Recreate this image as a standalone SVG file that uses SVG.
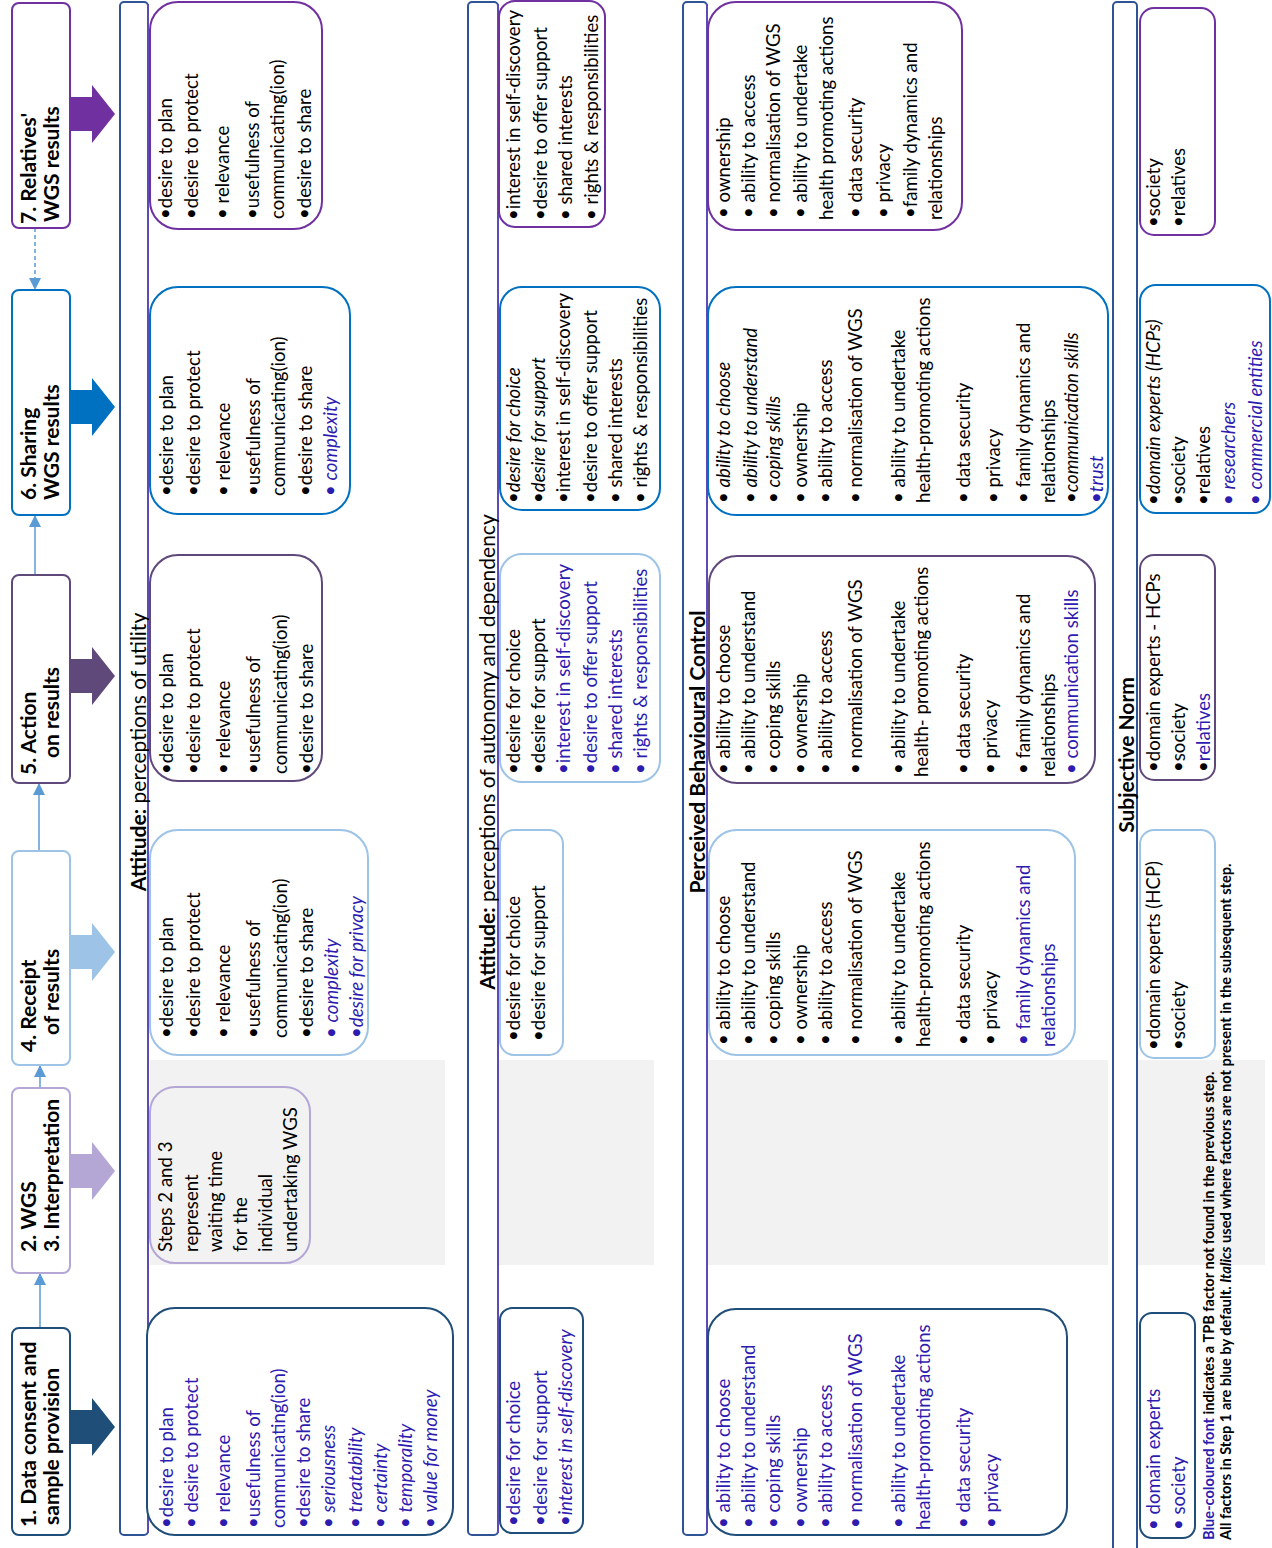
<svg xmlns="http://www.w3.org/2000/svg" width="1272" height="1548" viewBox="0 0 1272 1548">
<defs>
<style>
text{font-family:Lato,"Liberation Sans",sans-serif;font-size:18.6px;fill:#000}
.bl{fill:#2e1cb0}
.it{font-style:italic}
.st{font-size:21px;font-weight:bold}
.tt{font-size:21px}
.fn{font-size:14.6px;font-weight:bold}
.box{fill:#fff;stroke-width:2}
.bar{fill:#fff;stroke:#2f5496;stroke-width:2}
.grey{fill:#f2f2f2}
.conn{stroke:#5b9bd5;stroke-width:1.5;fill:none}
</style>
<marker id="ah" viewBox="0 0 12 12" refX="12" refY="6" markerWidth="12" markerHeight="12" markerUnits="userSpaceOnUse" orient="auto"><path d="M0,0 L12,6 L0,12 z" fill="#5b9bd5"/></marker>
</defs>
<rect width="1272" height="1548" fill="#fff"/>
<g transform="translate(0 1548) rotate(-90)">
<!-- grey waiting regions -->
<rect class="grey" x="283" y="150" width="205" height="295"/>
<rect class="grey" x="283" y="499" width="205" height="155"/>
<rect class="grey" x="283" y="708" width="205" height="400"/>
<rect class="grey" x="283" y="1138" width="205" height="127"/>

<!-- row header bars -->
<g id="row-utility">
<rect class="bar" x="13" y="120" width="1533" height="28" rx="4"/>
<line x1="15" y1="148" x2="1544" y2="148" stroke="#5b4bb7" stroke-width="2"/>
<text class="tt" x="796" y="146" text-anchor="middle"><tspan font-weight="bold">Attitude:</tspan> perceptions of utility</text>
</g>
<g id="row-autonomy">
<rect class="bar" x="13" y="468" width="1533" height="30" rx="4"/>
<line x1="15" y1="498" x2="1544" y2="498" stroke="#5b4bb7" stroke-width="2"/>
<text class="tt" x="796" y="495" text-anchor="middle"><tspan font-weight="bold">Attitude:</tspan> perceptions of autonomy and dependency</text>
</g>
<g id="row-pbc">
<rect class="bar" x="13" y="683" width="1533" height="24" rx="4"/>
<line x1="15" y1="707" x2="1544" y2="707" stroke="#5b4bb7" stroke-width="2"/>
<text class="tt" x="796" y="705" text-anchor="middle" font-weight="bold">Perceived Behavioural Control</text>
</g>
<g id="row-norm">
<rect class="bar" x="-4" y="1113" width="1550" height="24" rx="4"/>
<text class="tt" x="793" y="1134" text-anchor="middle" font-weight="bold">Subjective Norm</text>
</g>

<!-- connectors -->
<g id="connectors">
<line class="conn" x1="220" y1="40" x2="275" y2="40" marker-end="url(#ah)"/>
<line class="conn" x1="460" y1="40" x2="483" y2="40" marker-end="url(#ah)"/>
<line class="conn" x1="697" y1="39" x2="765" y2="39" marker-end="url(#ah)"/>
<line class="conn" x1="973" y1="35" x2="1033" y2="35" marker-end="url(#ah)"/>
<line class="conn" x1="1320" y1="35" x2="1258" y2="35" stroke-dasharray="4 3" marker-end="url(#ah)"/>
<polygon points="104,70 138,70 138,92 150,92 121,115 92,92 104,92" fill="#1f4e79"/>
<polygon points="360,70 394,70 394,92 406,92 377,115 348,92 360,92" fill="#b4a7d6"/>
<polygon points="579,70 613,70 613,92 625,92 596,115 567,92 579,92" fill="#9dc3e6"/>
<polygon points="855,70 889,70 889,92 901,92 872,115 843,92 855,92" fill="#5f497a"/>
<polygon points="1124,70 1158,70 1158,92 1170,92 1141,115 1112,92 1124,92" fill="#0070c0"/>
<polygon points="1417,70 1451,70 1451,92 1463,92 1434,115 1405,92 1417,92" fill="#7030a0"/>
</g>

<!-- steps -->
<g id="step1"><rect class="box" x="13" y="12" width="207" height="58" rx="7" stroke="#1f4e79"/>
<text class="st" x="21" y="36">1. Data consent and</text><text class="st" x="23" y="59">sample provision</text></g>
<g id="step2-3"><rect class="box" x="275" y="12" width="185" height="58" rx="7" stroke="#b4a7d6"/>
<text class="st" x="296" y="36">2. WGS</text><text class="st" x="296" y="59">3. Interpretation</text></g>
<g id="step4"><rect class="box" x="483" y="12" width="214" height="58" rx="7" stroke="#9dc3e6"/>
<text class="st" x="496" y="36">4. Receipt</text><text class="st" x="513" y="59">of results</text></g>
<g id="step5"><rect class="box" x="765" y="12" width="208" height="58" rx="7" stroke="#5f497a"/>
<text class="st" x="773" y="36">5. Action</text><text class="st" x="790" y="59">on results</text></g>
<g id="step6"><rect class="box" x="1033" y="12" width="225" height="58" rx="7" stroke="#0070c0"/>
<text class="st" x="1048" y="36">6. Sharing</text><text class="st" x="1048" y="59">WGS results</text></g>
<g id="step7"><rect class="box" x="1320" y="12" width="225" height="58" rx="7" stroke="#7030a0"/>
<text class="st" x="1324" y="36">7. Relatives'</text><text class="st" x="1326" y="59">WGS results</text></g>

<!-- Row 1: utility -->
<g id="u1"><rect class="box" x="13" y="147" width="227" height="306" rx="28" stroke="#1f4e79"/>
<text class="bl" x="20" y="173">•desire to plan</text>
<text class="bl" x="20" y="198">• desire to protect</text>
<text class="bl" x="20" y="230">• relevance</text>
<text class="bl" x="20" y="260">•usefulness of</text>
<text class="bl" x="20" y="285">communicating(ion)</text>
<text class="bl" x="20" y="310">•desire to share</text>
<text class="bl" x="20" y="335">• <tspan class="it bl">seriousness</tspan></text>
<text class="bl" x="20" y="362">• <tspan class="it bl">treatability</tspan></text>
<text class="bl" x="20" y="387">• <tspan class="it bl">certainty</tspan></text>
<text class="bl" x="20" y="412">• <tspan class="it bl">temporality</tspan></text>
<text class="bl" x="20" y="437">• <tspan class="it bl">value for money</tspan></text></g>
<g id="u23"><rect x="285" y="150" width="176" height="160" rx="25" fill="#f2f2f2" stroke="#b4a7d6" stroke-width="2"/>
<text x="296" y="172">Steps 2 and 3</text>
<text x="296" y="198">represent</text>
<text x="296" y="222">waiting time</text>
<text x="296" y="247">for the</text>
<text x="296" y="272">individual</text>
<text x="296" y="297">undertaking WGS</text></g>
<g id="u4"><rect class="box" x="493" y="150" width="225" height="218" rx="28" stroke="#9dc3e6"/>
<text x="510" y="173">•desire to plan</text>
<text x="510" y="200">•desire to protect</text>
<text x="510" y="230">• relevance</text>
<text x="510" y="260">•usefulness of</text>
<text x="510" y="287">communicating(ion)</text>
<text x="510" y="313">•desire to share</text>
<text class="bl" x="510" y="338">• <tspan class="it bl">complexity</tspan></text>
<text class="bl" x="510" y="363">•<tspan class="it bl">desire for privacy</tspan></text></g>
<g id="u5"><rect class="box" x="767" y="150" width="226" height="172" rx="28" stroke="#5f497a"/>
<text x="774" y="173">•desire to plan</text>
<text x="774" y="200">•desire to protect</text>
<text x="774" y="230">• relevance</text>
<text x="774" y="260">•usefulness of</text>
<text x="774" y="287">communicating(ion)</text>
<text x="774" y="313">•desire to share</text></g>
<g id="u6"><rect class="box" x="1034" y="150" width="227" height="200" rx="28" stroke="#0070c0"/>
<text x="1052" y="173">•desire to plan</text>
<text x="1052" y="200">•desire to protect</text>
<text x="1052" y="230">• relevance</text>
<text x="1052" y="260">•usefulness of</text>
<text x="1052" y="285">communicating(ion)</text>
<text x="1052" y="312">•desire to share</text>
<text class="bl" x="1052" y="337">• <tspan class="it bl">complexity</tspan></text></g>
<g id="u7"><rect class="box" x="1319" y="150" width="227" height="172" rx="28" stroke="#7030a0"/>
<text x="1329" y="172">•desire to plan</text>
<text x="1329" y="198">•desire to protect</text>
<text x="1329" y="229">• relevance</text>
<text x="1329" y="259">•usefulness of</text>
<text x="1329" y="284">communicating(ion)</text>
<text x="1329" y="311">•desire to share</text></g>

<!-- Row 2: autonomy -->
<g id="a1"><rect class="box" x="15" y="500" width="225" height="83" rx="12" stroke="#1f4e79"/>
<text class="bl" x="22" y="520">•desire for choice</text>
<text class="bl" x="22" y="547">•desire for support</text>
<text class="bl" x="22" y="572">•<tspan class="it bl">interest in self-discovery</tspan></text></g>
<g id="a4"><rect class="box" x="493" y="500" width="225" height="63" rx="14" stroke="#9dc3e6"/>
<text x="507" y="520">•desire for choice</text>
<text x="507" y="545">•desire for support</text></g>
<g id="a5"><rect class="box" x="766" y="500" width="228" height="160" rx="22" stroke="#9dc3e6"/>
<text x="774" y="520">•desire for choice</text>
<text x="774" y="545">•desire for support</text>
<text class="bl" x="774" y="570">•interest in self-discovery</text>
<text class="bl" x="774" y="597">•desire to offer support</text>
<text class="bl" x="774" y="622">• shared interests</text>
<text class="bl" x="774" y="647">• rights &amp; responsibilities</text></g>
<g id="a6"><rect class="box" x="1038" y="500" width="223" height="160" rx="22" stroke="#0070c0"/>
<text x="1045" y="520">•<tspan class="it">desire for choice</tspan></text>
<text x="1045" y="545">•<tspan class="it">desire for support</tspan></text>
<text x="1045" y="570">•interest in self-discovery</text>
<text x="1045" y="597">•desire to offer support</text>
<text x="1045" y="622">• shared interests</text>
<text x="1045" y="647">• rights &amp; responsibilities</text></g>
<g id="a7"><rect class="box" x="1321" y="499" width="226" height="106" rx="16" stroke="#7030a0"/>
<text x="1328" y="520">•interest in self-discovery</text>
<text x="1328" y="547">•desire to offer support</text>
<text x="1328" y="572">• shared interests</text>
<text x="1328" y="598">• rights &amp; responsibilities</text></g>

<!-- Row 3: PBC -->
<g id="p1"><rect class="box" x="13" y="708" width="226" height="359" rx="28" stroke="#1f4e79"/>
<text class="bl" x="20" y="730">• ability to choose</text>
<text class="bl" x="20" y="755">• ability to understand</text>
<text class="bl" x="20" y="780">• coping skills</text>
<text class="bl" x="20" y="807">• ownership</text>
<text class="bl" x="20" y="832">• ability to access</text>
<text class="bl" x="20" y="862">• normalisation of WGS</text>
<text class="bl" x="20" y="905">• ability to undertake</text>
<text class="bl" x="18" y="930">health-promoting actions</text>
<text class="bl" x="20" y="970">• data security</text>
<text class="bl" x="20" y="998">• privacy</text></g>
<g id="p4"><rect class="box" x="493" y="709" width="225" height="366" rx="28" stroke="#9dc3e6"/>
<text x="503" y="730">• ability to choose</text>
<text x="503" y="755">• ability to understand</text>
<text x="503" y="780">• coping skills</text>
<text x="503" y="807">• ownership</text>
<text x="503" y="832">• ability to access</text>
<text x="503" y="862">• normalisation of WGS</text>
<text x="503" y="905">• ability to undertake</text>
<text x="501" y="930">health-promoting actions</text>
<text x="503" y="970">• data security</text>
<text x="503" y="997">• privacy</text>
<text class="bl" x="503" y="1030">• family dynamics and</text>
<text class="bl" x="501" y="1055">relationships</text></g>
<g id="p5"><rect class="box" x="765" y="709" width="227" height="386" rx="28" stroke="#5f497a"/>
<text x="774" y="730">• ability to choose</text>
<text x="774" y="755">• ability to understand</text>
<text x="774" y="780">• coping skills</text>
<text x="774" y="807">• ownership</text>
<text x="774" y="832">• ability to access</text>
<text x="774" y="862">• normalisation of WGS</text>
<text x="774" y="905">• ability to undertake</text>
<text x="771" y="928">health- promoting actions</text>
<text x="774" y="970">• data security</text>
<text x="774" y="997">• privacy</text>
<text x="774" y="1030">• family dynamics and</text>
<text x="771" y="1055">relationships</text>
<text class="bl" x="774" y="1078">• communication skills</text></g>
<g id="p6"><rect class="box" x="1033" y="708" width="228" height="400" rx="28" stroke="#0070c0"/>
<text x="1045" y="730">• <tspan class="it">ability to choose</tspan></text>
<text x="1045" y="757">• <tspan class="it">ability to understand</tspan></text>
<text x="1045" y="780">• <tspan class="it">coping skills</tspan></text>
<text x="1045" y="807">• ownership</text>
<text x="1045" y="832">• ability to access</text>
<text x="1045" y="862">• normalisation of WGS</text>
<text x="1045" y="905">• ability to undertake</text>
<text x="1045" y="930">health-promoting actions</text>
<text x="1045" y="970">• data security</text>
<text x="1045" y="1000">• privacy</text>
<text x="1045" y="1030">• family dynamics and</text>
<text x="1045" y="1055">relationships</text>
<text x="1045" y="1078">•<tspan class="it">communication skills</tspan></text>
<text class="bl it" x="1045" y="1103">•trust</text></g>
<g id="p7"><rect class="box" x="1318" y="708" width="228" height="254" rx="28" stroke="#7030a0"/>
<text x="1330" y="730">• ownership</text>
<text x="1330" y="755">• ability to access</text>
<text x="1330" y="780">• normalisation of WGS</text>
<text x="1330" y="807">• ability to undertake</text>
<text x="1328" y="833">health promoting actions</text>
<text x="1330" y="862">• data security</text>
<text x="1330" y="890">• privacy</text>
<text x="1330" y="917">•family dynamics and</text>
<text x="1328" y="942">relationships</text></g>

<!-- Row 4: subjective norm -->
<g id="n1"><rect class="box" x="10" y="1140" width="225" height="55" rx="12" stroke="#1f4e79"/>
<text class="bl" x="18" y="1160">• domain experts</text>
<text class="bl" x="18" y="1185">• society</text></g>
<g id="n4"><rect class="box" x="490" y="1140" width="228" height="75" rx="14" stroke="#9dc3e6"/>
<text x="498" y="1160">•domain experts (HCP)</text>
<text x="498" y="1185">•society</text></g>
<g id="n5"><rect class="box" x="768" y="1140" width="225" height="75" rx="14" stroke="#5f497a"/>
<text x="776" y="1160">•domain experts - HCPs</text>
<text x="776" y="1185">•society</text>
<text x="776" y="1210">•<tspan class="bl">relatives</tspan></text></g>
<g id="n6"><rect class="box" x="1035" y="1140" width="228" height="130" rx="16" stroke="#0070c0"/>
<text x="1043" y="1160">•<tspan class="it">domain experts (HCPs)</tspan></text>
<text x="1043" y="1185">•society</text>
<text x="1043" y="1210">•relatives</text>
<text class="bl" x="1043" y="1235">• <tspan class="it bl">researchers</tspan></text>
<text class="bl" x="1043" y="1262">• <tspan class="it bl">commercial entities</tspan></text></g>
<g id="n7"><rect class="box" x="1313" y="1140" width="227" height="75" rx="14" stroke="#7030a0"/>
<text x="1321" y="1160">•society</text>
<text x="1321" y="1185">•relatives</text></g>

<g id="footnote">
<text class="fn" x="8" y="1214"><tspan class="bl">Blue-coloured font</tspan> indicates a TPB factor not found in the previous step.</text>
<text class="fn" x="8" y="1231">All factors in Step 1 are blue by default. <tspan font-style="italic">Italics</tspan> used where factors are not present in the subsequent step.</text>
</g>
</g>
</svg>
